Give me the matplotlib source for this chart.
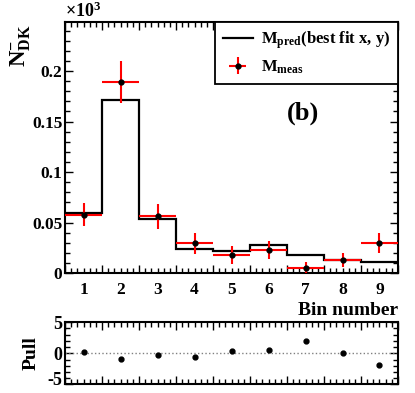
import matplotlib

matplotlib.use("Agg")
import matplotlib.pyplot as plt
import matplotlib.transforms as mtransforms
import numpy as np
from matplotlib.ticker import MultipleLocator, FixedLocator


BINS = [1, 2, 3, 4, 5, 6, 7, 8, 9]
PRED = [0.0600, 0.1716, 0.0535, 0.0235, 0.0218, 0.0277, 0.0181, 0.0129, 0.0109]
MEAS = [0.0580, 0.1890, 0.0564, 0.0294, 0.0178, 0.0228, 0.0046, 0.0126, 0.0297]
MEAS_ERR = [0.0115, 0.0205, 0.0125, 0.0105, 0.0087, 0.0088, 0.0065, 0.0070, 0.0098]
PULL = [0.2, -0.9, -0.3, -0.6, 0.4, 0.6, 2.0, 0.0, -1.9]

plt.rcParams["font.family"] = "Liberation Serif"
plt.rcParams["font.weight"] = "bold"
plt.rcParams["mathtext.fontset"] = "custom"
plt.rcParams["mathtext.rm"] = "Liberation Serif:bold"
plt.rcParams["mathtext.it"] = "Liberation Serif:bold"
plt.rcParams["mathtext.bf"] = "Liberation Serif:bold"


def style_axis(ax):
    for spine in ax.spines.values():
        spine.set_linewidth(1.5)
    ax.tick_params(which="both", direction="in", top=True, right=True, width=1.0)
    ax.tick_params(which="major", length=6)
    ax.tick_params(which="minor", length=3.5)


fig = plt.figure(figsize=(4.15, 3.93), dpi=100)
ax = fig.add_axes([0.157, 0.305, 0.802, 0.639])
axp = fig.add_axes([0.157, 0.022, 0.802, 0.158])

bins = np.array(BINS)
edges = np.append(bins - 0.5, bins[-1] + 0.5)

ax.stairs(PRED, edges, baseline=None, color="black", linewidth=1.6,
          label=r"$\mathrm{M_{pred}}$(best fit x, y)", zorder=2)
ax.errorbar(bins, MEAS, yerr=MEAS_ERR, xerr=0.5, fmt="o", color="black",
            markersize=3.5, ecolor="red", elinewidth=1.5, capsize=0,
            label=r"$\mathrm{M_{meas}}$", zorder=3)

ax.set_xlim(0.5, 9.5)
ax.set_ylim(0, 0.2485)
style_axis(ax)
ax.xaxis.set_major_locator(FixedLocator(edges))
ax.xaxis.set_minor_locator(MultipleLocator(1 / 6))
ax.set_xticklabels([])
for b in BINS:
    ax.text(b, -0.009, str(b), ha="center", va="top", fontsize=12.5,
            fontweight="bold", transform=ax.transData)
ax.yaxis.set_major_locator(FixedLocator([0, 0.05, 0.1, 0.15, 0.2]))
ax.yaxis.set_minor_locator(MultipleLocator(0.01))
ax.set_yticklabels(["0", "0.05", "0.1", "0.15", "0.2"], fontsize=12.5, fontweight="bold")
ax.tick_params(axis="y", pad=2)

ax.text(1.0, -0.113, "Bin number", ha="right", va="top", fontsize=14,
        fontweight="bold", transform=ax.transAxes)
ax.text(0.0, 1.005, r"$\times$10$^{3}$", ha="left", va="bottom", fontsize=13,
        fontweight="bold", transform=ax.transAxes)
ax.text(-0.132, 0.99, r"$\mathrm{N^{-}_{DK}}$", rotation=90, ha="center", va="top",
        fontsize=16.5, transform=ax.transAxes)
ax.text(0.715, 0.635, "(b)", ha="center", va="center", fontsize=19,
        fontweight="bold", transform=ax.transAxes)

leg = ax.legend(loc="upper right", frameon=True, fancybox=False, framealpha=1,
                edgecolor="black", borderaxespad=0, fontsize=12, handlelength=1.8,
                borderpad=0.45, labelspacing=0.45, handletextpad=0.5)
leg.get_frame().set_linewidth(1.3)

axp.axhline(0, color="gray", linestyle=":", linewidth=1.0)
axp.plot(bins, PULL, "o", color="black", markersize=3.5)
axp.set_xlim(0.5, 9.5)
axp.set_ylim(-5, 5)
style_axis(axp)
axp.xaxis.set_major_locator(FixedLocator(edges))
axp.xaxis.set_minor_locator(MultipleLocator(1 / 6))
axp.set_xticklabels([])
axp.yaxis.set_major_locator(FixedLocator([-5, 0, 5]))
axp.yaxis.set_minor_locator(MultipleLocator(1))
axp.set_yticklabels(["-5", "0", "5"], fontsize=13, fontweight="bold")
axp.tick_params(axis="y", pad=2)
axp.set_ylabel("Pull", fontsize=14, fontweight="bold", labelpad=6)

# keep the bottom "-5" label inside the figure
low = axp.get_yticklabels()[0]
low.set_transform(low.get_transform() + mtransforms.ScaledTranslation(0, 4 / 72, fig.dpi_scale_trans))

fig.savefig("out.png", dpi=100)
